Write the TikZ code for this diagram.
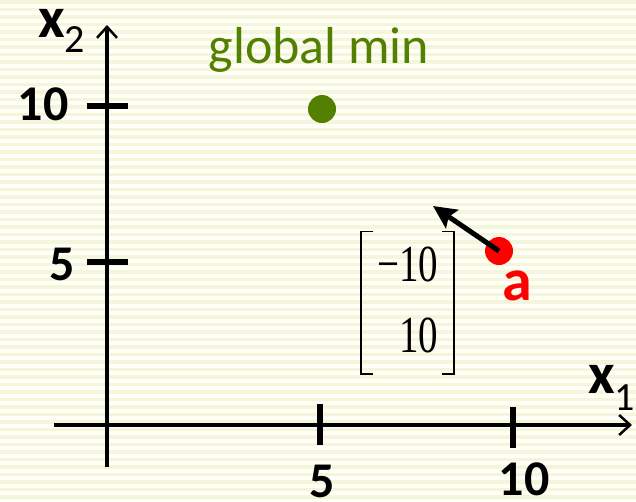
\documentclass[tikz,border=0pt]{standalone}
\usepackage{fontspec}
\setmainfont{Carlito}
\newfontfamily\timesfont{Liberation Serif}
\usetikzlibrary{arrows.meta}
\definecolor{paper}{HTML}{FFFFF7}
\definecolor{stripe}{HTML}{F3F6DA}
\definecolor{mingreen}{HTML}{538000}
\definecolor{ptred}{HTML}{FF0000}
\tikzset{
  axisline/.style={line width=3.5pt,
                   -{Straight Barb[length=11pt,width=20pt,line width=2.5pt]}},
  tickline/.style={line width=5.5pt},
  ticklabel/.style={font=\fontsize{50}{50}\selectfont\bfseries,inner sep=0pt},
  axislabel/.style={anchor=base west,inner sep=0pt,font=\fontsize{58}{58}\selectfont},
  dot/.style={circle,inner sep=0pt,minimum size=28pt},
  steparr/.style={line width=5pt,-{Stealth[length=23pt,width=22pt,inset=4pt]}},
  vecbox/.style={inner sep=0pt,minimum width=93pt,minimum height=125pt,
                 font=\timesfont\fontsize{52}{71}\selectfont},
  bracket/.style={line width=1.6pt}
}
\begin{document}
\begin{tikzpicture}[x=1pt,y=-1pt]
  \useasboundingbox (0,0) rectangle (636,501);
  % striped paper
  \fill[paper] (0,0) rectangle (636,501);
  \foreach \yy in {0,7.5,...,501}
    \fill[stripe] (0,\yy) rectangle (636,\yy+3.6);
  % axes
  \coordinate (yfoot) at (107,467);
  \coordinate (ytop) at (107,25);
  \coordinate (xfoot) at (54,425);
  \coordinate (xtop) at (632,425);
  \draw[axisline] (yfoot) -- (ytop);
  \draw[axisline] (xfoot) -- (xtop);
  \node[axislabel] (xtwo) at (38,37)
    {\bfseries x{\fontsize{40}{40}\selectfont\mdseries\raisebox{-15pt}{2}}};
  \node[axislabel] (xone) at (588,393)
    {\bfseries x{\fontsize{40}{40}\selectfont\mdseries\raisebox{-17pt}{1}}};
  % ticks
  \coordinate (ty10a) at (87,106);  \coordinate (ty10b) at (128,106);
  \coordinate (ty5a) at (87,262);   \coordinate (ty5b) at (128,262);
  \coordinate (tx5a) at (320,404);  \coordinate (tx5b) at (320,445);
  \coordinate (tx10a) at (513,407); \coordinate (tx10b) at (513,448);
  \draw[tickline] (ty10a) -- (ty10b);
  \draw[tickline] (ty5a) -- (ty5b);
  \draw[tickline] (tx5a) -- (tx5b);
  \draw[tickline] (tx10a) -- (tx10b);
  \node[ticklabel] (ly10) at (43,104) {10};
  \node[ticklabel] (ly5) at (62.5,264) {5};
  \node[ticklabel] (lx5) at (322,481) {5};
  \node[ticklabel] (lx10) at (524,479) {10};
  % global minimum
  \node[anchor=base,inner sep=0pt,text=mingreen,font=\fontsize{52}{52}\selectfont]
    (gmin) at (319,63) {global min};
  \node[dot,fill=mingreen,minimum height=27pt] (gdot) at (322,109) {};
  % point a and its step
  \node[dot,fill=ptred] (adot) at (499,251) {};
  \node[anchor=base,inner sep=0pt,text=ptred,font=\fontsize{60}{60}\selectfont\bfseries]
    (alabel) at (517,300) {a};
  \coordinate (atip) at (433,206);
  \draw[steparr] (adot.center) -- (atip);
  % step vector
  \node[vecbox] (vec) at (407.5,302.5)
    {\raisebox{8pt}{\scalebox{0.75}[1]{\begin{tabular}{@{}r@{}}−10\\10\end{tabular}}}};
  \draw[bracket] ([xshift=12pt]vec.north west) -- (vec.north west)
    -- (vec.south west) -- ([xshift=12pt]vec.south west);
  \draw[bracket] ([xshift=-12pt]vec.north east) -- (vec.north east)
    -- (vec.south east) -- ([xshift=-12pt]vec.south east);
\end{tikzpicture}
\end{document}
